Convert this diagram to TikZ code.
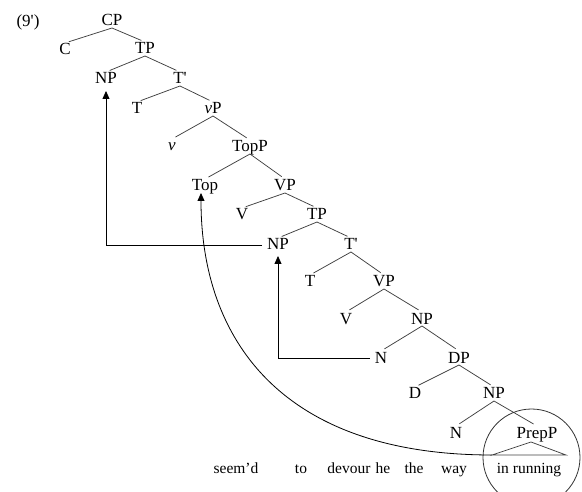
\documentclass[tikz,border=0pt]{standalone}
\usepackage{fontspec}
\setmainfont{Liberation Serif}
\usetikzlibrary{arrows.meta}

\tikzset{
  lab/.style={font=\fontsize{17}{20}\selectfont, inner sep=1pt, outer sep=0pt,
              text height=11pt, text depth=1pt, anchor=base},
  word/.style={font=\fontsize{15.5}{18}\selectfont, inner sep=0pt, anchor=base},
  branch/.style={draw=black!75, line width=0.75pt},
  move/.style={draw=black, line width=0.8pt,
               -{Triangle[length=8pt,width=7pt]}},
}

\begin{document}
\begin{tikzpicture}[x=1pt, y=-1pt]
\useasboundingbox (0,0) rectangle (582,492);
\clip (0,0) rectangle (582,492);

\node[lab] (ex) at (28,27) {(9\textquotesingle)};

% tree labels
\node[lab] (cp)    at (112,26)  {CP};
\node[lab] (c)     at (65,55)   {C};
\node[lab] (tp1)   at (145,54)  {TP};
\node[lab] (np1)   at (106,84)  {NP};
\node[lab] (tb1)   at (180,84)  {T\textquotesingle};
\node[lab] (t1)    at (137,114) {T};
\node[lab] (vsp)   at (213,114) {\textit{v}P};
\node[lab] (vs)    at (172,151) {\textit{v}};
\node[lab] (topp)  at (250,152) {TopP};
\node[lab] (top)   at (205,191) {Top};
\node[lab] (vp1)   at (285,191) {VP};
\node[lab] (v1)    at (242,220) {V};
\node[lab] (tp2)   at (317,220) {TP};
\node[lab] (np2)   at (278,250) {NP};
\node[lab] (tb2)   at (351,250) {T\textquotesingle};
\node[lab] (t2)    at (310,287) {T};
\node[lab] (vp2)   at (384,287) {VP};
\node[lab] (v2)    at (346,324) {V};
\node[lab] (np3)   at (422,324) {NP};
\node[lab] (n1)    at (381,363) {N};
\node[lab] (dp)    at (459,363) {DP};
\node[lab] (d)     at (415,399) {D};
\node[lab] (np4)   at (494,399) {NP};
\node[lab] (n2)    at (456,438) {N};
\node[lab] (prepp) at (537,438) {PrepP};

% terminal string
\node[word] (w1) at (236,473) {seem’d};
\node[word] (w2) at (301,473) {to};
\node[word] (w3) at (349,473) {devour};
\node[word] (w4) at (383,473) {he};
\node[word] (w5) at (414,473) {the};
\node[word] (w6) at (454,473) {way};
\node[word] (w7) at (529,473) {in running};

% branches: left daughter -- mother -- right daughter
\foreach \p/\a/\b in {cp/c/tp1, tp1/np1/tb1, tb1/t1/vsp, vsp/vs/topp,
                      topp/top/vp1, vp1/v1/tp2, tp2/np2/tb2, tb2/t2/vp2,
                      vp2/v2/np3, np3/n1/dp, dp/d/np4, np4/n2/prepp}
  \draw[branch, shorten <=4pt, shorten >=4pt] (\a.north) -- (\p.south) -- (\b.north);

% collapsed PrepP
\coordinate (apex) at (531,442);
\coordinate (tl)   at (492,455);
\coordinate (tr)   at (566,455);
\draw[branch] (tl) -- (apex) -- (tr) -- cycle;
\draw[black!80, line width=0.8pt] (531.5,457.5) circle (48.5pt);

% movement
\draw[move, shorten <=4pt, shorten >=5pt] (np2.west) -| (np1.south);
\draw[move, shorten <=4pt, shorten >=4pt] (n1.west) -| (np2.south);
\draw[move] (tl) .. controls +(-212,0) and +(0,145) .. ([xshift=-4pt]top.south);
\end{tikzpicture}
\end{document}
